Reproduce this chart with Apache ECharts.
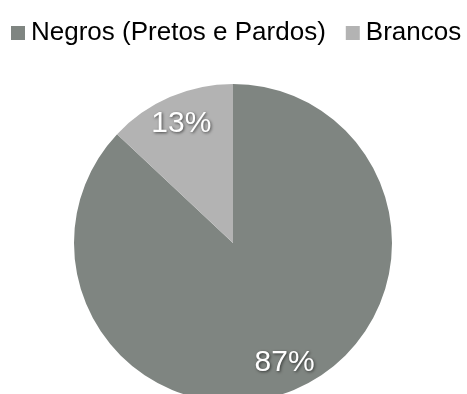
<!DOCTYPE html>
<html><head><meta charset="utf-8">
<script src="https://cdn.jsdelivr.net/npm/echarts@6/dist/echarts.min.js"></script>
<style>html,body{margin:0;padding:0;background:#fff}#c{width:467px;height:394px}</style>
</head><body><div id="c"></div>
<script>
const categories = ['Negros (Pretos e Pardos)', 'Brancos'];
const values = [87, 13];
const colors = ['#7f8581', '#b3b3b3'];

const chart = echarts.init(document.getElementById('c'), null, {renderer: 'canvas'});
const data = categories.map((n, i) => ({name: n, value: values[i], itemStyle: {color: colors[i]}}));
chart.setOption({
  animation: false,
  legend: {
    data: categories, left: 6, top: 15, itemWidth: 14, itemHeight: 14, itemGap: 20,
    icon: 'rect',
    textStyle: {fontFamily: 'Liberation Sans, Arial', fontSize: 26, color: '#000', padding: [0, 0, 0, 1]}
  },
  series: [
    {
      type: 'pie', center: [233, 243], radius: 159, startAngle: 90, clockwise: true,
      silent: true, label: {show: false}, labelLine: {show: false}, data: data
    },
    {
      type: 'pie', center: [233, 243], radius: 254, startAngle: 90, clockwise: true,
      silent: true, z: 3,
      itemStyle: {color: 'rgba(0,0,0,0)'},
      label: {
        show: true, position: 'inside', formatter: '{c}%', color: '#fff',
        fontFamily: 'Liberation Sans, Arial', fontSize: 30,
        textShadowColor: 'rgba(0,0,0,0.6)', textShadowBlur: 3, textShadowOffsetX: 1, textShadowOffsetY: 1
      },
      labelLine: {show: false},
      data: categories.map((n, i) => ({name: n + ' ', value: values[i]}))
    }
  ]
});
</script></body></html>
